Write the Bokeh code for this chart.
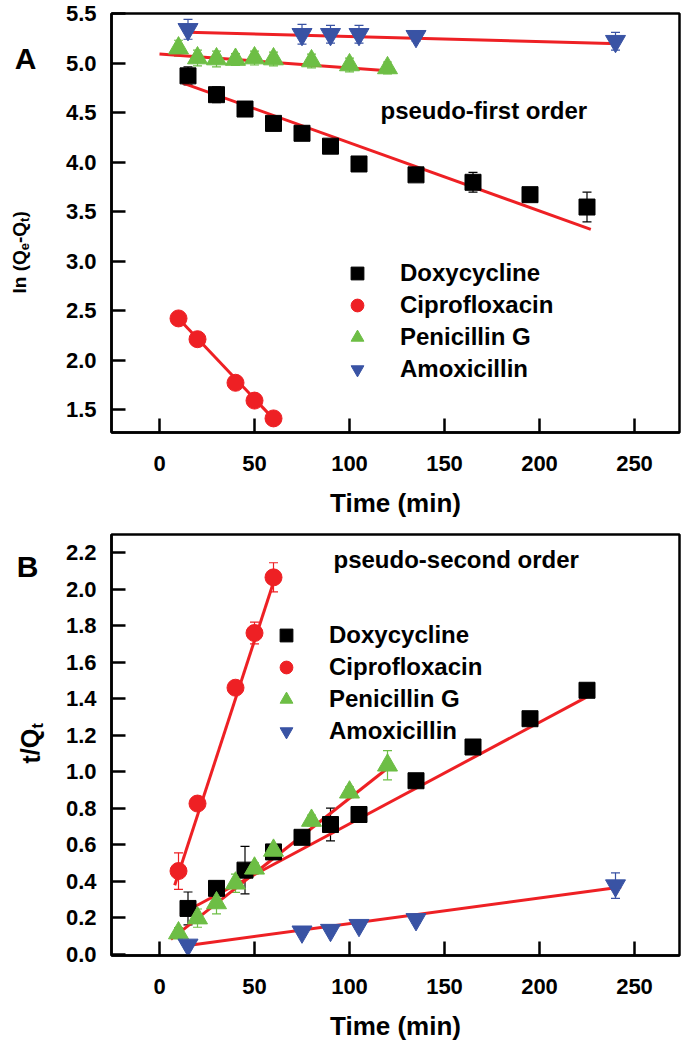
from bokeh.plotting import figure
from bokeh.layouts import column, row
from bokeh.models import (ColumnDataSource, Whisker, TeeHead, Legend, LegendItem,
                          Label, FixedTicker, NumeralTickFormatter, Range1d)
from bokeh.core.properties import value
from bokeh.embed import file_html
from bokeh.resources import INLINE

# ---------------- data: panel A (pseudo-first order) ----------------
time_doxy = [15, 30, 45, 60, 75, 90, 105, 135, 165, 195, 225]
time_cipro = [10, 20, 40, 50, 60]
time_pen = [10, 20, 30, 40, 50, 60, 80, 100, 120]
time_amox = [15, 75, 90, 105, 135, 240]

a_doxy = [4.87, 4.68, 4.535, 4.39, 4.29, 4.16, 3.98, 3.87, 3.795, 3.67, 3.545]
a_doxy_err = [0.09, 0.08, 0.03, 0.03, 0.03, 0.03, 0.03, 0.05, 0.10, 0.03, 0.15]
a_cipro = [2.42, 2.21, 1.77, 1.59, 1.41]
a_cipro_err = [0.02, 0.02, 0.02, 0.02, 0.02]
a_pen = [5.15, 5.05, 5.04, 5.035, 5.05, 5.04, 5.02, 4.98, 4.95]
a_pen_err = [0.08, 0.08, 0.08, 0.06, 0.07, 0.07, 0.07, 0.07, 0.06]
a_amox = [5.34, 5.29, 5.29, 5.29, 5.27, 5.22]
a_amox_err = [0.10, 0.10, 0.09, 0.09, 0.05, 0.09]

# linear fits (end points) panel A
a_fit_doxy_t = [12, 227]
a_fit_doxy = [4.80, 3.32]
a_fit_cipro_t = [10, 60]
a_fit_cipro = [2.42, 1.405]
a_fit_pen_t = [0, 122]
a_fit_pen = [5.09, 4.92]
a_fit_amox_t = [15, 242]
a_fit_amox = [5.31, 5.195]

# ---------------- data: panel B (pseudo-second order) ----------------
b_doxy = [0.25, 0.36, 0.46, 0.56, 0.64, 0.71, 0.765, 0.95, 1.135, 1.29, 1.446]
b_doxy_err = [0.09, 0.03, 0.13, 0.03, 0.03, 0.09, 0.03, 0.03, 0.02, 0.02, 0.02]
b_cipro = [0.455, 0.825, 1.46, 1.76, 2.065]
b_cipro_err = [0.10, 0.03, 0.03, 0.06, 0.08]
b_pen = [0.115, 0.197, 0.28, 0.388, 0.47, 0.568, 0.732, 0.887, 1.035]
b_pen_err = [0.03, 0.05, 0.06, 0.05, 0.03, 0.03, 0.03, 0.03, 0.08]
b_amox = [0.05, 0.122, 0.131, 0.158, 0.19, 0.375]
b_amox_err = [0.02, 0.02, 0.02, 0.02, 0.02, 0.07]

b_fit_doxy_t = [11, 225]
b_fit_doxy = [0.218, 1.41]
b_fit_cipro_t = [8, 61]
b_fit_cipro = [0.377, 2.07]
b_fit_pen_t = [6, 122]
b_fit_pen = [0.08, 1.035]
b_fit_amox_t = [13, 243]
b_fit_amox = [0.044, 0.368]

names = ["Doxycycline", "Ciprofloxacin", "Penicillin G", "Amoxicillin"]
x_ticks = [0, 50, 100, 150, 200, 250]
a_y_ticks = [1.5, 2.0, 2.5, 3.0, 3.5, 4.0, 4.5, 5.0, 5.5]
b_y_ticks = [0.0, 0.2, 0.4, 0.6, 0.8, 1.0, 1.2, 1.4, 1.6, 1.8, 2.0, 2.2]

# ---------------- style ----------------
FONT = "Liberation Sans"
BLACK = "#000000"
RED = "#ee2024"
GREEN = "#6dbe45"
BLUE = "#3953a4"
colors = [BLACK, RED, GREEN, BLUE]
markers = ["square", "circle", "triangle", "inverted_triangle"]
sizes = [16, 17, 20, 20]

SIDE_W = 53           # strip carrying the panel letter and the y title
MAIN_W = 628
BORDER_L = 58         # frame left edge at x = 111
FRAME_W = MAIN_W - BORDER_L - 2
X_LO = -48 / 1.9
X_HI = X_LO + FRAME_W / 1.9
BOTTOM = 88


def make_fig(height, y_lo, y_hi, y_ticks, top_border):
    p = figure(width=MAIN_W, height=height, output_backend="svg", toolbar_location=None,
               x_range=Range1d(X_LO, X_HI), y_range=Range1d(y_lo, y_hi),
               min_border_left=BORDER_L, min_border_right=2,
               min_border_top=top_border, min_border_bottom=BOTTOM)
    p.xgrid.visible = False
    p.ygrid.visible = False
    p.outline_line_color = "black"
    p.outline_line_width = 2.5
    for ax in (p.xaxis[0], p.yaxis[0]):
        ax.axis_line_width = 2.5
        ax.major_tick_line_width = 2.5
        ax.major_tick_in = 14
        ax.major_tick_out = 0
        ax.minor_tick_in = 0
        ax.minor_tick_out = 0
        ax.major_label_text_font = FONT
        ax.major_label_text_font_style = "bold"
        ax.major_label_text_font_size = "22px"
        ax.major_label_text_color = "black"
    p.xaxis.ticker = FixedTicker(ticks=x_ticks)
    p.yaxis.ticker = FixedTicker(ticks=y_ticks)
    p.yaxis.formatter = NumeralTickFormatter(format="0.0")
    p.yaxis.major_label_standoff = 15
    p.xaxis.major_label_standoff = 23
    p.xaxis.axis_label = "Time (min)"
    p.xaxis.axis_label_text_font = FONT
    p.xaxis.axis_label_text_font_style = "bold"
    p.xaxis.axis_label_text_font_size = "26px"
    p.xaxis.axis_label_text_color = "black"
    p.xaxis.axis_label_standoff = 14
    return p


def make_side(height):
    s = figure(frame_width=SIDE_W, frame_height=height, output_backend="svg",
               toolbar_location=None, title=None,
               x_range=Range1d(0, SIDE_W), y_range=Range1d(0, height),
               x_axis_type=None, y_axis_type=None,
               min_border_left=0, min_border_right=0, min_border_top=0, min_border_bottom=0)
    s.xgrid.visible = False
    s.ygrid.visible = False
    s.outline_line_color = None
    return s


def add_series(p, t_list, y_list, err_list, fit_t, fit_y):
    items = []
    for i in range(4):
        p.line(fit_t[i], fit_y[i], line_color=RED, line_width=3)
    for i in range(4):
        lo = [v - e for v, e in zip(y_list[i], err_list[i])]
        hi = [v + e for v, e in zip(y_list[i], err_list[i])]
        src = ColumnDataSource(dict(x=t_list[i], y=y_list[i], lo=lo, hi=hi))
        w = Whisker(source=src, base="x", upper="hi", lower="lo",
                    line_color=colors[i], line_width=1.2,
                    upper_head=TeeHead(size=9, line_color=colors[i], line_width=1.2),
                    lower_head=TeeHead(size=9, line_color=colors[i], line_width=1.2),
                    level="underlay")
        p.add_layout(w)
        r = p.scatter("x", "y", source=src, marker=markers[i], size=sizes[i],
                      fill_color=colors[i], line_color=colors[i], line_width=1)
        items.append(LegendItem(label=names[i], renderers=[r]))
    return items


def style_legend(p, items, loc):
    leg = Legend(items=items, location=loc, glyph_width=32, glyph_height=32,
                 label_height=32, spacing=0, padding=0, margin=0,
                 label_standoff=27, border_line_color=None,
                 background_fill_alpha=0.0,
                 label_text_font=FONT, label_text_font_style="bold",
                 label_text_font_size="24px", label_text_color="black")
    p.add_layout(leg)


def lab(fig, x, y, txt, size, angle=0.0, align="left", baseline="alphabetic"):
    fig.add_layout(Label(x=x, y=y, text=txt, text_font=FONT, text_font_style="bold",
                         text_font_size=size, text_color="black", angle=angle,
                         text_align=align, text_baseline=baseline))


def side_texts(s, h, xs, ys, txts, size, angle=0.0, align="left", baseline="alphabetic"):
    # xs, ys: pixel offsets from the strip's top-left corner
    s.text(x=xs, y=[h - v for v in ys], text=txts, angle=angle,
           text_font=value(FONT), text_font_style="bold", text_font_size=value(size),
           text_color="black", text_align=align, text_baseline=baseline)


ANG = 1.5708

# ---------------- panel A ----------------
HA = 520
A_TOP = 13
A_FRAME = HA - A_TOP - BOTTOM
A_HI = 5.5
A_LO = A_HI - A_FRAME / 99.0
pa = make_fig(HA, A_LO, A_HI, a_y_ticks, A_TOP)
items_a = add_series(pa, [time_doxy, time_cipro, time_pen, time_amox],
                     [a_doxy, a_cipro, a_pen, a_amox],
                     [a_doxy_err, a_cipro_err, a_pen_err, a_amox_err],
                     [a_fit_doxy_t, a_fit_cipro_t, a_fit_pen_t, a_fit_amox_t],
                     [a_fit_doxy, a_fit_cipro, a_fit_pen, a_fit_amox])
style_legend(pa, items_a, (230, 47))
lab(pa, X_LO + (380 - 111) / 1.9, A_HI - (110 - A_TOP) / 99.0,
    "pseudo-first order", "24px", baseline="middle")

sa = make_side(HA)
side_texts(sa, HA, [25], [45], ["A"], "30px", align="center", baseline="middle")
bx, y0 = 19, 280
side_texts(sa, HA, [bx, bx, bx], [y0, y0 - 50.5, y0 - 75.9], ["ln (Q", "-Q", ")"], "19px", ANG)
side_texts(sa, HA, [bx + 5, bx + 5], [y0 - 43.3, y0 - 71.6], ["e", "t"], "13px", ANG)

# ---------------- panel B ----------------
HB = 523
B_TOP = 14
B_FRAME = HB - B_TOP - BOTTOM
B_LO, B_HI = -0.008, 2.30
pb = make_fig(HB, B_LO, B_HI, b_y_ticks, B_TOP)
items_b = add_series(pb, [time_doxy, time_cipro, time_pen, time_amox],
                     [b_doxy, b_cipro, b_pen, b_amox],
                     [b_doxy_err, b_cipro_err, b_pen_err, b_amox_err],
                     [b_fit_doxy_t, b_fit_cipro_t, b_fit_pen_t, b_fit_amox_t],
                     [b_fit_doxy, b_fit_cipro, b_fit_pen, b_fit_amox])
style_legend(pb, items_b, (159, 208))
lab(pb, X_LO + (333 - 111) / 1.9, B_HI - (559 - 534) * (B_HI - B_LO) / B_FRAME,
    "pseudo-second order", "24px", baseline="middle")

sb = make_side(HB)
side_texts(sb, HB, [27], [32], ["B"], "30px", align="center", baseline="middle")
tx, ty = 30, 229
side_texts(sb, HB, [tx], [ty], ["t/Q"], "25px", ANG)
side_texts(sb, HB, [tx + 7], [ty - 35], ["t"], "16px", ANG)

layout = column(row(sa, pa), row(sb, pb))
open("out.html", "w").write(file_html(layout, INLINE))
